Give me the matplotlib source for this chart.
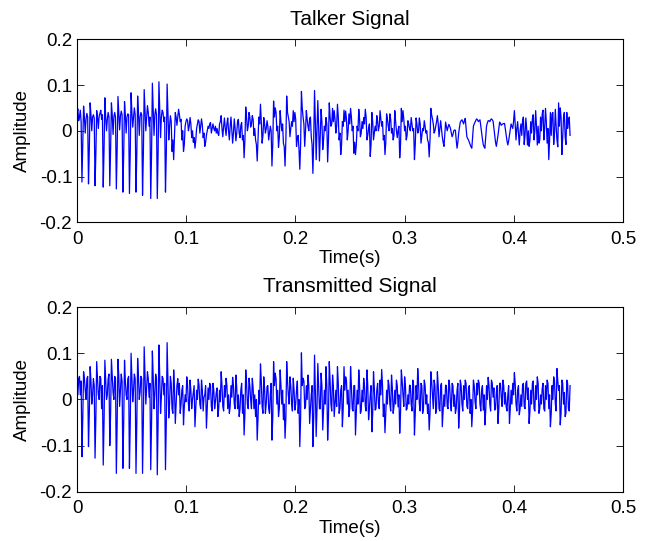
import numpy as np
import matplotlib
matplotlib.use('Agg')
import matplotlib.pyplot as plt

plt.rcParams['font.family'] = ['Liberation Sans', 'DejaVu Sans']

# sample spacing of the hand-read waveforms (s)
dt = 0.00075

# talker signal, amplitude in thousandths, main extremes
talker_mv = [
    36, 22, 45, -112, 54, -5, 38, -116, 61, 0,
    35, -120, 44, 5, 38, 25, -123, 72, 0, 40,
    -120, 61, -8, 40, -127, 75, 2, 43, -134, 64,
    -5, 37, -137, 83, 8, 50, -134, 76, -10, 40,
    -141, 90, 0, 55, 10, -148, 104, -10, 48, -148,
    107, -15, 45, 20, -134, 102, -20, 33, -45, -63,
    40, 12, 47, 20, -20, -45, 10, 26, 0, 29,
    -15, -25, -38, 5, 24, -5, 26, -15, -34, -10,
    10, 15, -5, 15, 0, -5, -6, 15, 33, -13,
    28, -10, 28, -20, 30, -27, 26, -22, 20, -5,
    12, -20, -59, 52, 0, 40, 8, 33, -10, -20,
    -66, 30, 58, -27, 29, -5, 22, -20, 10, -77,
    65, 50, 0, -36, 44, 0, -27, -77, 76, 30,
    -13, 20, 44, 40, -34, -10, -84, 86, 30, -34,
    44, 10, 26, -13, -93, 88, -63, 66, -66, 47,
    -41, 10, 29, -68, 61, 10, 49, 44, -5, 58,
    -20, -52, 20, 45, 43, -20, 37, 49, 0, -49,
    -52, 10, 47, -13, 20, 29, 47, -20, 5, -56,
    40, -20, 10, 33, 0, 44, 10, -20, -52, 37,
    10, 37, -5, -20, 44, 0, 1, -59, 49, 44,
    0, -20, 22, 5, 29, 0, -63, 28, -5, 28,
    -27, 5, 22, -5, -20, -57, 49, 26, -5, 10,
    33, -13, 22, -13, -34, 19, 0, 14, 5, -13,
    0, 1, -38, -5, 19, 24, 15, 27, -13, -20,
    -30, -38, 10, 19, 26, 20, 24, -5, -30, -38,
    10, 22, 20, 26, 21, -13, -34, -10, 19, 12,
    15, 16, -10, -31, -10, 15, 5, 44, -20, 20,
    -31, 15, 22, -30, 28, -31, -34, 20, 26, -20,
    44, -31, -27, 30, 37, -20, 49, -27, -63, 40,
    37, -30, 47, -20, 61, 50, -52, 29, -13, 40,
    20, -10,
]

# talker, in-between wiggles (one between each pair above)
talker_mid_mv = [
    48, 30, 20, -30, 30, 25, 30, -40, 35, 30,
    28, -50, 30, 32, 45, 35, -40, 30, 25, 30,
    -40, 35, 30, 30, -40, 38, 32, 35, -50, 35,
    30, 35, -45, 40, 30, 35, -50, 40, 30, 35,
    -50, 45, 30, 40, 30, -50, 45, 35, 35, -50,
    45, 30, 40, 30, -50, 40, 10, 20, -20, -10,
    30, 30, 35, 25, 0, -30, 20, 22, 10, 15,
    0, -15, -20, 15, 20, 10, 12, -5, -25, 0,
    5, 18, 5, 5, 10, 5, -10, 20, 5, 10,
    5, 15, 0, 10, 0, -5, 5, -5, 25, -15,
    18, -10, -20, 30, 10, 30, 15, 25, 5, -30,
    -20, 15, 20, -10, 15, 5, 10, -5, 0, -30,
    30, 40, 10, -15, 20, 15, -35, -20, 40, 20,
    5, 10, 20, 25, -15, -40, -30, 50, 15, 0,
    25, 0, 30, -30, -20, 20, 0, 10, -10, 20,
    -20, 0, 15, -20, 30, 15, 20, 25, 10, 30,
    -5, -30, 10, 20, 25, 0, 15, 30, 10, -25,
    -30, 0, 25, -5, 5, 15, 30, -10, 15, -30,
    20, -5, 0, 20, 10, 25, 20, -10, -25, 25,
    0, 25, 5, -10, 20, -15, 10, -30, 20, 25,
    10, -10, 15, 0, 15, 5, -30, 15, 0, 15,
    -10, 0, 10, 0, -25, -20, 35, 15, 0, 20,
    15, 5, 5, -25, -10, 10, 8, 10, -5, -8,
    2, -20, -25, 8, 22, 20, 22, 8, -17, -25,
    -35, -15, 15, 23, 24, 22, 10, -18, -35, -15,
    17, 22, 24, 24, 5, -25, -22, 5, 16, 14,
    16, 3, -22, -22, 3, 10, 20, 15, 5, -5,
    0, -10, 30, -10, 5, 0, -20, -5, 35, 0,
    10, 10, -20, 0, 45, 5, 20, 5, -20, -10,
    40, -5, 10, -35, 10, 30, -15, 40, -30, 5,
    30,
]

# transmitted signal, amplitude in thousandths, main extremes
transmitted_mv = [
    30, 45, 10, -124, 60, 20, 45, -102, 71, -10,
    45, -127, 82, 10, 50, -20, -142, 85, 0, 45,
    -100, 87, 15, 50, -160, 87, -15, 55, -149, 85,
    10, 45, -149, 100, -5, 55, -160, 89, 0, 50,
    -160, 114, -10, 60, 5, -152, 105, -20, 55, -163,
    118, -30, 50, 10, -152, 123, -40, 50, -20, 64,
    -52, 30, 10, -30, 20, -55, 10, 49, -10, 42,
    -20, 15, -59, 20, 44, -10, 42, -25, 10, -62,
    25, 35, -15, 35, -20, 15, -37, 20, 60, -15,
    30, 46, -20, -30, 30, 48, -10, 53, -20, -37,
    20, -30, -77, 64, -10, 46, 0, 46, -20, -37,
    -88, 20, 77, -15, 49, -30, 28, -20, 10, -88,
    82, 57, -10, -37, 64, -10, -44, -84, 82, 10,
    49, -10, 46, -23, 20, -30, -102, 101, 46, -20,
    30, 53, -52, 10, -102, 96, -80, 78, -20, 57,
    -66, 20, 71, -88, 82, -10, 53, -37, 20, 71,
    -30, 20, -59, 71, 49, -10, -37, 71, -20, 30,
    -77, 20, 64, -30, 20, 46, -15, 64, -44, 10,
    -70, 60, -23, 20, -10, 42, 65, -37, -72, 20,
    42, -10, 53, -30, 20, 42, -16, -73, 64, 10,
    49, -23, 10, 31, -10, 42, -77, 30, 67, -10,
    35, -30, 42, -10, -30, -66, 60, 10, 42, -30,
    60, -20, 30, -59, 10, 31, -15, 42, -10, 35,
    -15, -30, 20, -62, 42, -10, 30, 42, -15, 25,
    -30, -59, 42, -5, 35, 42, -10, 20, -23, -55,
    30, 48, -10, 42, 5, -23, 15, -52, 35, 5,
    42, -10, -16, 10, -52, 20, 35, 58, -10, 20,
    -33, 10, 31, -15, 35, 0, -52, 20, 35, -20,
    30, 49, -30, 10, 24, -20, 30, 42, -20, -59,
    30, 49, -10, 67, 20, -55, 42, -10, -37, 42,
    -20, 30,
]

# transmitted, in-between wiggles
transmitted_mid_mv = [
    10, 50, 40, -40, 45, 0, 50, -30, 40, 10,
    30, -40, 45, 0, 45, 30, -50, 45, 10, 55,
    -30, 50, 0, 45, -50, 50, 20, 40, -50, 40,
    0, 50, -50, 45, 20, 45, -50, 50, 15, 45,
    -50, 50, 25, 45, 35, -50, 50, 10, 45, -50,
    50, 5, 45, 35, -50, 40, -10, 35, -30, 25,
    -10, 45, 35, -10, 30, -15, -5, 30, -25, 20,
    0, 30, -20, 0, 30, -20, 20, 5, 30, -20,
    0, 30, -25, 20, -5, 25, -20, -5, 30, -25,
    5, 30, 10, -15, 5, 30, -20, 25, 10, -20,
    35, 10, -30, 35, -20, 30, -20, 25, 10, 0,
    -40, -10, 40, -30, 25, -10, 30, -30, 35, -40,
    30, 45, 20, -20, 30, 20, -10, -40, 40, -10,
    30, -25, 20, -10, 40, 0, -40, 30, 40, -15,
    0, 30, -20, 30, -40, 20, -20, 30, -20, 30,
    -25, -10, 30, -40, 40, -25, 30, -10, -15, 35,
    -20, 30, -20, 20, 40, 20, -20, 30, -25, 30,
    -30, -10, 30, -25, -5, 30, -25, 30, -20, 30,
    -30, 25, -20, 35, -20, 10, 30, -10, -30, -10,
    30, -25, 25, -15, -10, 30, 10, -30, 40, -15,
    30, -20, -10, 30, -25, 30, -30, 0, 35, -25,
    30, -20, 30, 10, -10, -30, 40, -20, 30, -20,
    30, -25, 35, -25, -15, 30, -20, 30, -25, 30,
    10, -20, 35, -25, 30, -25, 0, 35, -20, 30,
    0, -25, 30, -20, 10, 35, -25, 30, 10, -25,
    0, 30, -25, 35, 25, -20, 30, -20, 35, -15,
    30, 15, -25, 30, -20, -10, 10, 35, -25, 30,
    -20, -15, 35, -20, 40, 25, -25, -10, 40, -25,
    0, 35, -20, -10, 35, -25, 0, 35, 10, -30,
    0, 40, -25, 40, 30, -30, 35, 15, -30, 35,
    -25,
]

titles = ['Talker Signal', 'Transmitted Signal']
xticks = [0, 0.1, 0.2, 0.3, 0.4, 0.5]
xtick_labels = ['0', '0.1', '0.2', '0.3', '0.4', '0.5']
yticks = [-0.2, -0.1, 0, 0.1, 0.2]
ytick_labels = ['-0.2', '-0.1', '0', '0.1', '0.2']


def weave(main, mid):
    # put each in-between value after its main value
    y = np.empty(len(main) + len(mid))
    y[0::2] = main
    y[1::2] = mid
    return y / 1000.0


fig = plt.figure(figsize=(6.5, 5.41), dpi=100)
ax1 = fig.add_axes([0.1185, 0.589, 0.840, 0.3385])
ax2 = fig.add_axes([0.1185, 0.0908, 0.840, 0.3416])

signals = [weave(talker_mv, talker_mid_mv), weave(transmitted_mv, transmitted_mid_mv)]

for ax, y, title in zip([ax1, ax2], signals, titles):
    t = np.arange(len(y)) * dt
    ax.plot(t, y, color='#0000ff', linewidth=0.9)
    ax.set_xlim(0, 0.5)
    ax.set_ylim(-0.2, 0.2)
    ax.set_xticks(xticks)
    ax.set_xticklabels(xtick_labels)
    ax.set_yticks(yticks)
    ax.set_yticklabels(ytick_labels)
    ax.tick_params(direction='in', top=True, right=True, length=5,
                   width=0.6, labelsize=13.5)
    ax.tick_params(axis='x', pad=6)
    ax.tick_params(axis='y', pad=3.5)
    for s in ax.spines.values():
        s.set_linewidth(0.8)
    ax.set_title(title, fontsize=15, pad=10.5)
    ax.set_xlabel('Time(s)', fontsize=13.5, labelpad=2)
    ax.set_ylabel('Amplitude', fontsize=13.5, labelpad=6.5)

fig.savefig('out.png', dpi=100, facecolor='white')
